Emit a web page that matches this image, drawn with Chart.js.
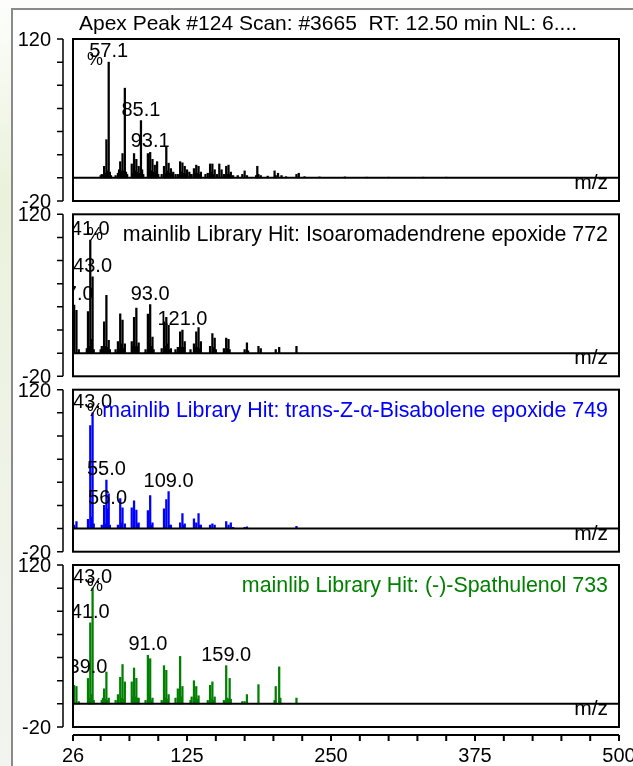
<!DOCTYPE html>
<html>
<head>
<meta charset="utf-8">
<script src="https://cdn.jsdelivr.net/npm/chart.js@4.4.0/dist/chart.umd.min.js"></script>
<style>
  html, body { margin: 0; padding: 0; }
  body {
    width: 633px; height: 766px; position: relative; overflow: hidden;
    background: linear-gradient(to bottom, #fdfefb 0%, #eaf2dc 25%, #eef3e6 55%, #f2f4ef 100%);
  }
  #frame {
    position: absolute; left: 11px; top: 8px; width: 640px; height: 780px;
    background: #fff; border-left: 2px solid #8a8a8a; border-top: 2px solid #8a8a8a;
  }
  canvas { position: absolute; left: 0; top: 0; }
</style>
</head>
<body>
<div id="frame"></div>
<canvas id="p0" width="633" height="766"></canvas>
<canvas id="p1" width="633" height="766"></canvas>
<canvas id="p2" width="633" height="766"></canvas>
<canvas id="p3" width="633" height="766"></canvas>

<script>
// axis values
const yTicks = [-20, 0, 20, 40, 60, 80, 100, 120];
const yTickLabels = [-20, 120];
const xTicks = [26, 50, 75, 100, 125, 150, 175, 200, 225, 250, 275, 300, 325, 350, 375, 400, 425, 450, 475, 500];
const xTickLabels = [26, 125, 250, 375, 500];

const titleText = 'Apex Peak #124 Scan: #3665  RT: 12.50 min NL: 6....';

// scan spectrum (top)
const scanMz = [50, 51, 52, 53, 54, 55, 56, 57, 58, 59, 63, 65, 66, 67, 68, 69, 70, 71, 72, 73,
  77, 78, 79, 80, 81, 82, 83, 84, 85, 86, 87, 91, 92, 93, 94, 95, 96, 97, 98, 99, 100,
  103, 105, 106, 107, 108, 109, 110, 111, 112, 113, 115, 117, 119, 120, 121, 122, 123, 124, 125, 127,
  128, 129, 131, 132, 133, 134, 135, 136, 137, 141, 143, 145, 146, 147, 148, 149,
  151, 153, 155, 157, 159, 160, 161, 162, 163, 165, 169, 173, 175, 177, 185, 186, 187, 189,
  195, 201, 202, 204, 207, 211, 220, 222, 227, 240, 262, 281, 300, 330, 350];
const scanInt = [2, 3, 2, 10, 4, 33, 6, 100, 5, 2, 2, 4, 7, 14, 6, 21, 6, 77.5, 5, 3,
  12, 4, 21, 6, 16, 5, 10, 4, 49.5, 7, 3, 21, 8, 22, 6, 16, 5, 11, 4, 14, 3,
  3, 10, 4, 26.5, 6, 12.7, 4, 8, 3, 5, 3, 3, 14, 5, 13, 4, 10, 3, 7, 5,
  3, 3, 8, 4, 11, 4, 10, 3, 5, 3, 4, 12, 5, 12, 3, 7,
  3, 12, 7, 3, 10, 3, 11, 3, 5, 2, 2, 3, 6, 2, 2, 10, 3, 2,
  1.5, 6, 2, 4, 2, 1, 3, 4, 1, 0.8, 0.8, 0.6, 0.6, 0.6, 0.6];
const scanLabels = ['57.1', '85.1', '93.1'];
const scanLabelMz = [57, 85, 93];

// hit 1: Isoaromadendrene epoxide
const hit1Name = 'mainlib Library Hit: Isoaromadendrene epoxide 772';
const hit1Mz = [27, 29, 31, 38, 39, 40, 41, 42, 43, 44, 50, 51, 52, 53, 54, 55, 56, 57, 58,
  63, 65, 66, 67, 68, 69, 70, 71, 77, 78, 79, 80, 81, 82, 83, 89, 91, 92, 93, 94, 95, 96,
  103, 105, 106, 107, 108, 109, 110, 111, 115, 117, 119, 120, 121, 122, 123,
  128, 131, 132, 133, 134, 135, 136, 137, 145, 147, 148, 149, 150,
  157, 159, 160, 161, 162, 175, 177, 178, 187, 189, 202, 205, 220];
const hit1Int = [41.5, 37, 3, 4, 36, 6, 97.7, 12, 66, 3, 3, 6, 3, 27, 6, 50, 5, 11, 3,
  3, 10, 4, 34, 8, 28.5, 4, 8, 10, 6, 31, 6, 39, 6, 9, 3, 33.7, 8, 42, 6, 14, 3,
  4, 27, 6, 31, 8, 24, 3, 4, 3, 5, 18.5, 5, 20, 5, 10,
  3, 8, 5, 18.5, 5, 22, 4, 10, 6, 17, 5, 13, 3,
  4, 13, 4, 12, 3, 3, 9, 2, 6, 4, 3, 5, 6];
const hit1Labels = ['27.0', '41.0', '43.0', '93.0', '121.0'];
const hit1LabelMz = [27, 41, 43, 93, 121];

// hit 2: trans-Z-alpha-Bisabolene epoxide
const hit2Name = 'mainlib Library Hit: trans-Z-\u03b1-Bisabolene epoxide 749';
const hit2Mz = [27, 29, 39, 41, 42, 43, 44, 51, 53, 54, 55, 56, 57, 58, 65, 67, 68, 69, 71,
  77, 79, 81, 82, 83, 91, 93, 94, 95, 105, 107, 109, 110, 111, 119, 121, 122, 123,
  131, 133, 135, 136, 137, 145, 147, 149, 159, 161, 163, 165, 175, 177, 220];
const hit2Int = [3, 6, 8, 89, 10, 100, 4, 3, 20, 4, 42, 17, 30, 3, 3, 26, 5, 18, 4,
  18, 24, 16, 4, 5, 15.6, 28.5, 3, 5, 17, 25, 32, 3, 3, 5, 13, 3, 4,
  8.5, 5, 13, 3, 3, 3, 4, 3, 6, 3, 5, 1, 1, 1.5, 2];
const hit2Labels = ['43.0', '55.0', '56.0', '109.0'];
const hit2LabelMz = [43, 55, 56, 109];

// hit 3: (-)-Spathulenol
const hit3Name = 'mainlib Library Hit: (-)-Spathulenol 733';
const hit3Mz = [27, 29, 31, 39, 40, 41, 42, 43, 44, 51, 52, 53, 54, 55, 56, 57,
  63, 65, 67, 68, 69, 70, 71, 77, 78, 79, 80, 81, 82, 83, 89, 91, 92, 93, 94, 95,
  103, 105, 106, 107, 108, 109, 115, 117, 118, 119, 120, 121,
  128, 129, 131, 132, 133, 134, 135, 143, 145, 146, 147, 148, 149,
  157, 159, 160, 161, 162, 163, 173, 175, 177, 187, 201, 202, 205, 206, 220];
const hit3Int = [16, 15, 2, 22, 5, 70, 8, 100, 3, 3, 5, 13, 4, 27.5, 3, 5,
  3, 8, 23, 5, 34, 4, 19, 19, 6, 31, 6, 22, 5, 5, 3, 42, 8, 39, 3, 5,
  3, 33, 5, 29, 4, 8, 5, 13, 4, 41, 6, 15,
  3, 6, 20, 5, 15, 4, 7, 3, 16, 4, 19, 3, 6,
  3, 33, 5, 4, 22, 4, 2, 2, 8, 16.6, 3, 15, 32, 5, 5];
const hit3Labels = ['39.0', '41.0', '43.0', '91.0', '159.0'];
const hit3LabelMz = [39, 41, 43, 91, 159];

const BOX_LEFT = 73, BOX_RIGHT = 619, BOX_H = 162;
const PANEL_TOPS = [39, 214.3, 389.7, 565];
const FONT = '"Liberation Sans", Arial, sans-serif';

function txt(ctx, s, x, y, size, align, color) {
  ctx.font = size + 'px ' + FONT;
  ctx.textAlign = align;
  ctx.textBaseline = 'alphabetic';
  ctx.fillStyle = color || '#000';
  ctx.fillText(s, x, y);
}

function makePanel(idx, mz, inten, color, name, nameColor, labels, labelMz) {
  const top = PANEL_TOPS[idx];
  const last = idx === 3;
  const panelDeco = {
    id: 'panelDeco',
    afterDatasetsDraw(chart) {
      const ctx = chart.ctx;
      const xs = chart.scales.x, ys = chart.scales.y;
      const a = chart.chartArea;
      ctx.save();
      ctx.strokeStyle = '#000';

      // zero line
      ctx.lineWidth = 2;
      const y0 = ys.getPixelForValue(0);
      ctx.beginPath(); ctx.moveTo(a.left, y0); ctx.lineTo(a.right, y0); ctx.stroke();

      // box
      ctx.strokeRect(a.left, a.top, a.right - a.left, a.bottom - a.top);

      // y axis, detached from the box
      const ax = a.left - 10;
      ctx.lineWidth = 1.5;
      ctx.beginPath();
      ctx.moveTo(ax, ys.getPixelForValue(120)); ctx.lineTo(ax, ys.getPixelForValue(-20));
      yTicks.forEach(v => {
        const py = ys.getPixelForValue(v);
        ctx.moveTo(ax - 6, py); ctx.lineTo(ax, py);
      });
      ctx.stroke();
      yTickLabels.forEach(v => txt(ctx, String(v), ax - 12, ys.getPixelForValue(v) + 7, 20, 'right'));

      // peak labels and texts inside the box
      ctx.save();
      ctx.beginPath();
      ctx.rect(a.left, a.top, a.right - a.left, a.bottom - a.top);
      ctx.clip();
      labels.forEach((s, i) => {
        const m = labelMz[i];
        const v = inten[mz.indexOf(m)];
        txt(ctx, s, xs.getPixelForValue(m), ys.getPixelForValue(v) - 5, 20, 'center');
      });
      txt(ctx, '%', a.left + 22, a.top + 26, 18, 'center');
      if (name) txt(ctx, name, a.right - 11, a.top + 27, 21.4, 'right', nameColor);
      txt(ctx, 'm/z', a.right - 11, y0 + 11, 21, 'right');
      ctx.restore();

      // title
      if (idx === 0) txt(ctx, titleText, 328, 30, 21, 'center');

      // bottom x axis
      if (last) {
        const ay = a.bottom + 8;
        ctx.lineWidth = 2;
        ctx.beginPath();
        ctx.moveTo(a.left, ay); ctx.lineTo(a.right, ay);
        xTicks.forEach(v => {
          const px = xs.getPixelForValue(v);
          ctx.moveTo(px, ay); ctx.lineTo(px, ay + 6);
        });
        ctx.stroke();
        xTickLabels.forEach(v => txt(ctx, String(v), xs.getPixelForValue(v), ay + 27, 20, 'center'));
      }
      ctx.restore();
    }
  };

  new Chart(document.getElementById('p' + idx), {
    type: 'bar',
    data: {
      datasets: [{
        data: mz.map((m, i) => ({ x: m, y: inten[i] })),
        backgroundColor: color,
        borderWidth: 0,
        barThickness: 1.6,
        grouped: false
      }]
    },
    options: {
      responsive: false,
      animation: false,
      layout: { padding: { left: BOX_LEFT, right: 633 - BOX_RIGHT, top: top, bottom: 766 - top - BOX_H } },
      scales: {
        x: { type: 'linear', min: 26, max: 500, offset: false, display: false },
        y: { type: 'linear', min: -20, max: 120, display: false }
      },
      plugins: { legend: { display: false }, tooltip: { enabled: false } }
    },
    plugins: [panelDeco]
  });
}

makePanel(0, scanMz, scanInt, '#000000', null, null, scanLabels, scanLabelMz);
makePanel(1, hit1Mz, hit1Int, '#000000', hit1Name, '#000000', hit1Labels, hit1LabelMz);
makePanel(2, hit2Mz, hit2Int, '#0000ff', hit2Name, '#0000ff', hit2Labels, hit2LabelMz);
makePanel(3, hit3Mz, hit3Int, '#008000', hit3Name, '#008000', hit3Labels, hit3LabelMz);
</script>
</body>
</html>
